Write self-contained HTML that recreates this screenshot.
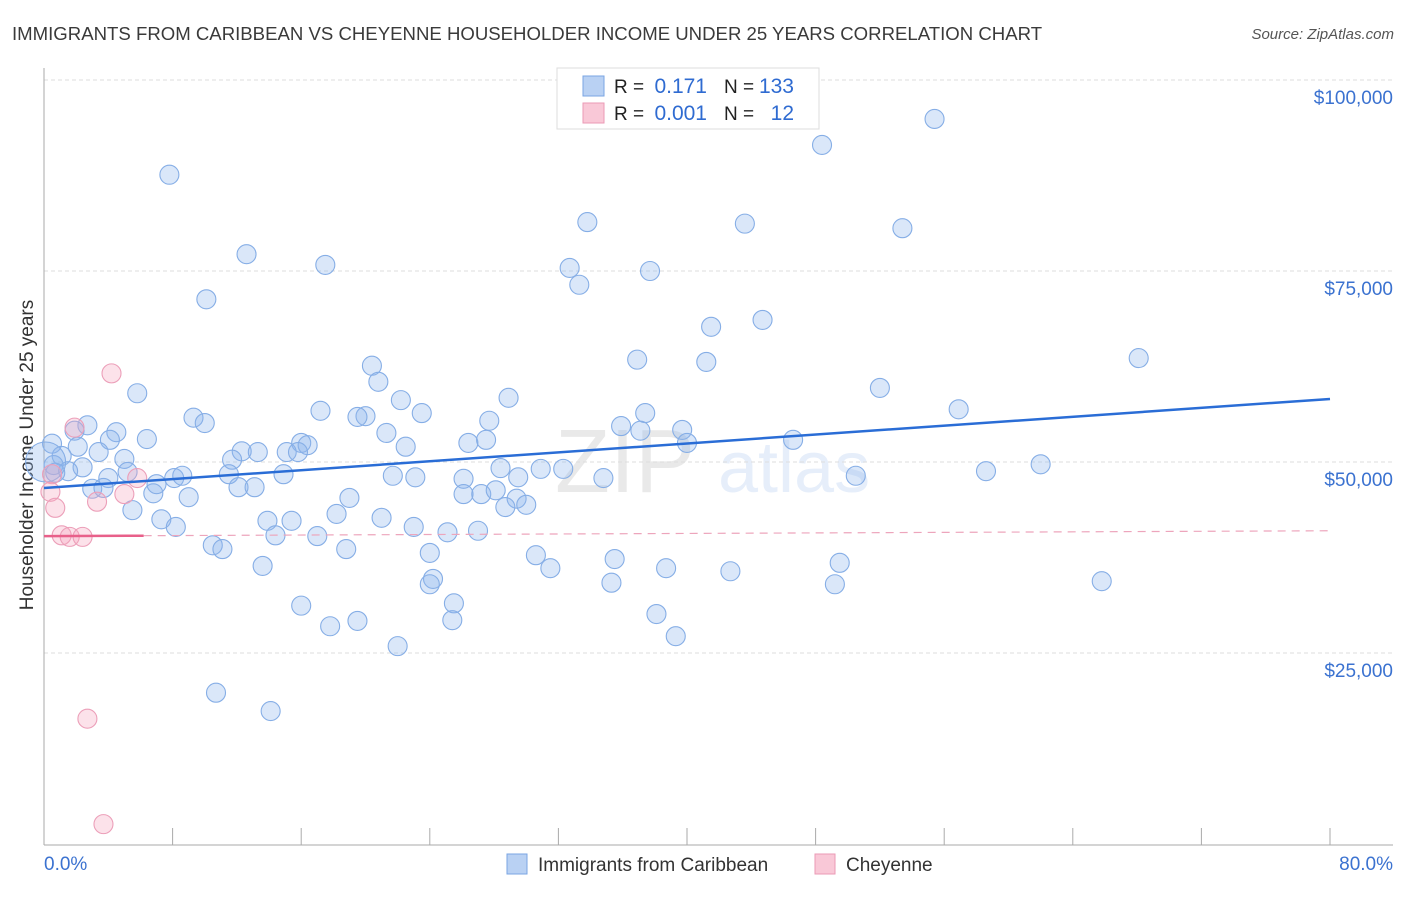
<!DOCTYPE html>
<html><head><meta charset="utf-8"><style>
body{margin:0;background:#fff;font-family:"Liberation Sans",sans-serif;}
svg text{font-family:"Liberation Sans",sans-serif;}
</style></head><body>
<svg id="chart" width="1406" height="892" xmlns="http://www.w3.org/2000/svg">
<text x="12" y="40" font-size="18.6" fill="#3a3a3a">IMMIGRANTS FROM CARIBBEAN VS CHEYENNE HOUSEHOLDER INCOME UNDER 25 YEARS CORRELATION CHART</text>
<text x="1394" y="39" font-size="15" fill="#555" font-style="italic" text-anchor="end">Source: ZipAtlas.com</text>
<text x="0" y="0" transform="translate(33,455) rotate(-90)" font-size="19" fill="#333" text-anchor="middle">Householder Income Under 25 years</text>
<g opacity="0.12"><text x="555" y="492" font-size="90" font-family="Liberation Serif" fill="#555">ZIP</text><text x="718" y="492" font-size="72" fill="#3b7bd9">atlas</text></g>
<g id="grid"></g>
<g id="axes"></g>
<g id="pts"></g>
<g id="trends"></g>
<g>
<rect x="557" y="68" width="262" height="61" fill="#fff" stroke="#ddd"/>
<rect x="583" y="76" width="21" height="20" fill="#b9d1f3" stroke="#7aa5e3"/>
<rect x="583" y="103" width="21" height="20" fill="#f9c8d7" stroke="#eb9ab5"/>
<text x="614" y="93" font-size="19" fill="#222">R = </text><text x="707" y="93" font-size="21" fill="#2f6bd1" text-anchor="end">0.171</text>
<text x="724" y="93" font-size="19" fill="#222">N = </text><text x="794" y="93" font-size="21" fill="#2f6bd1" text-anchor="end">133</text>
<text x="614" y="120" font-size="19" fill="#222">R = </text><text x="707" y="120" font-size="21" fill="#2f6bd1" text-anchor="end">0.001</text>
<text x="724" y="120" font-size="19" fill="#222">N = </text><text x="794" y="120" font-size="21" fill="#2f6bd1" text-anchor="end">12</text>
</g>
<g>
<rect x="507" y="854" width="20" height="20" fill="#b9d1f3" stroke="#7aa5e3"/>
<text x="538" y="871" font-size="19" fill="#333">Immigrants from Caribbean</text>
<rect x="815" y="854" width="20" height="20" fill="#f9c8d7" stroke="#eb9ab5"/>
<text x="846" y="871" font-size="19" fill="#333">Cheyenne</text>
</g>
</svg>
<script>
const yTicks=[25000,50000,75000,100000];
const yTickLabels=["$25,000","$50,000","$75,000","$100,000"];
const xTickLabels=["0.0%","80.0%"];
const blueX=[7.8,55.4,48.4,33.8,43.6,53.4,12.6,17.5,32.7,37.7,33.3,10.1,41.5,44.7,68.1,36.9,41.2,20.4,20.8,52.0,5.8,56.9,22.2,28.9,17.2,23.5,9.3,20.0,19.5,10.0,27.7,2.7,1.9,4.5,6.4,21.3,4.1,37.4,35.9,37.1,39.7,40.0,46.6,16.0,26.4,27.5,16.4,0.5,2.1,3.4,12.3,13.3,15.1,15.8,22.5,11.7,5.0,1.1,0.6,2.4,1.5,0.7,5.2,4.0,8.1,8.6,11.5,14.9,21.7,23.1,28.4,30.9,32.3,34.8,50.5,58.6,62.0,26.1,29.5,3.0,3.7,6.8,7.0,12.1,13.1,9.0,19.0,26.1,27.2,28.1,29.4,30.0,28.7,5.5,7.3,18.2,8.2,13.9,15.4,21.0,23.0,25.1,27.0,14.4,17.0,10.5,11.1,18.8,24.0,30.6,31.5,35.5,49.5,13.6,38.7,42.7,24.2,24.0,35.3,49.2,65.8,16.0,25.5,38.1,19.5,17.8,25.4,39.3,22.0,10.7,14.1,0.1];
const blueY=[87.6,94.9,91.5,81.4,81.2,80.6,77.2,75.8,75.4,75.0,73.2,71.3,67.7,68.6,63.6,63.4,63.1,62.6,60.5,59.7,59.0,56.9,58.1,58.4,56.7,56.4,55.8,56.0,55.9,55.1,55.4,54.8,54.1,53.9,53.0,53.8,52.9,56.4,54.7,54.1,54.2,52.5,52.9,52.5,52.5,52.9,52.2,52.4,52.0,51.3,51.4,51.3,51.3,51.3,52.0,50.3,50.4,50.8,49.6,49.3,48.8,48.6,48.7,47.9,47.9,48.2,48.4,48.4,48.2,48.0,49.2,49.1,49.1,47.9,48.2,48.8,49.7,47.8,48.0,46.5,46.6,45.9,47.1,46.7,46.7,45.4,45.3,45.8,45.8,46.3,45.2,44.4,44.1,43.7,42.5,43.2,41.5,42.3,42.3,42.7,41.5,40.8,41.0,40.4,40.3,39.1,38.6,38.6,38.1,37.8,36.1,37.3,36.8,36.4,36.1,35.7,34.7,34.0,34.2,34.0,34.4,31.2,31.5,30.1,29.2,28.5,29.3,27.2,25.9,19.8,17.4,50.0];
const pinkX=[4.2,1.9,5.8,0.5,0.4,5.0,3.3,0.7,1.1,1.6,2.4,2.7,3.7];
const pinkY=[61.6,54.5,47.9,48.4,46.1,45.8,44.8,44.0,40.4,40.2,40.2,16.4,2.6];
const blueTrend=[46.6,58.25];
const pinkTrend=[40.3,41.0];
const pinkSolidEnd=6.2;
const NS="http://www.w3.org/2000/svg";
const X0=44,X1=1330,Y0=844,Y100=80;
function sx(v){return X0+(X1-X0)*v/80;}
function sy(v){return Y0-(Y0-Y100)*v/100000;}
function mk(tag,at,parent){const e=document.createElementNS(NS,tag);for(const k in at)e.setAttribute(k,at[k]);parent.appendChild(e);return e;}
const grid=document.getElementById('grid'),axes=document.getElementById('axes'),pts=document.getElementById('pts'),tr=document.getElementById('trends');
yTicks.forEach((t,i)=>{
 const l=mk('line',{x1:X0,x2:1393,y1:sy(t),y2:sy(t),stroke:'#ddd','stroke-dasharray':'4,3'},grid);
 
 
 const tx=mk('text',{x:1393,y:sy(t)+24,'font-size':19,fill:'#3b72d0','text-anchor':'end'},axes);
 tx.textContent=yTickLabels[i];
 
 
});
const ya=mk('line',{x1:X0,x2:X0,y1:68,y2:845,stroke:'#aaa'},axes);


const xa=mk('line',{x1:X0,x2:1393,y1:845,y2:845,stroke:'#aaa'},axes);


for(let i=0;i<=10;i++){
 const t=mk('line',{x1:sx(i*8),x2:sx(i*8),y1:828,y2:845,stroke:'#aaa'},axes);
 
 
}
const xl0=mk('text',{x:44,y:870,'font-size':19,fill:'#3b72d0'},axes);xl0.textContent=xTickLabels[0];


const xl1=mk('text',{x:1393,y:870,'font-size':19,fill:'#3b72d0','text-anchor':'end'},axes);xl1.textContent=xTickLabels[1];


blueX.forEach((x,i)=>{
 const big=i===blueX.length-1;
 const c=mk('circle',{cx:sx(x),cy:sy(blueY[i]*1000),r:big?20:9.5,fill:'rgba(140,180,235,0.32)',stroke:'#86aee6','stroke-width':1.1},pts);
 
 
});
pinkX.forEach((x,i)=>{
 const c=mk('circle',{cx:sx(x),cy:sy(pinkY[i]*1000),r:9.5,fill:'rgba(245,165,190,0.32)',stroke:'#ec9fb9','stroke-width':1.1},pts);
 
 
});
const bl=mk('line',{x1:sx(0),y1:sy(blueTrend[0]*1000),x2:sx(80),y2:sy(blueTrend[1]*1000),stroke:'#2a6dd6','stroke-width':2.5},tr);


function py(x){return pinkTrend[0]+(pinkTrend[1]-pinkTrend[0])*x/80;}
const pd=mk('line',{x1:sx(pinkSolidEnd),y1:sy(py(pinkSolidEnd)*1000),x2:sx(80),y2:sy(pinkTrend[1]*1000),stroke:'#eda5bc','stroke-width':1.2,'stroke-dasharray':'8,6'},tr);


const ps=mk('line',{x1:sx(0),y1:sy(pinkTrend[0]*1000),x2:sx(pinkSolidEnd),y2:sy(py(pinkSolidEnd)*1000),stroke:'#e8608a','stroke-width':2.5},tr);


</script>
</body></html>
